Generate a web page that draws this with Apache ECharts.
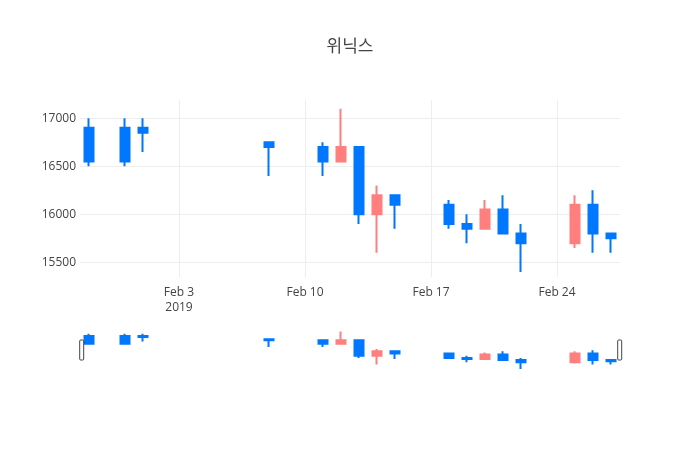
<!DOCTYPE html>
<html>
<head>
<meta charset="utf-8">
<title>위닉스</title>
<script src="https://cdn.jsdelivr.net/npm/echarts@6/dist/echarts.min.js"></script>
<style>
  html, body { margin: 0; padding: 0; background: #fff; }
  #chart { width: 700px; height: 450px; }
</style>
</head>
<body>
<div id="chart"></div>
<script>
// trading days shown in the chart
var dates = ['2019-01-29', '2019-01-31', '2019-02-01', '2019-02-08', '2019-02-11',
  '2019-02-12', '2019-02-13', '2019-02-14', '2019-02-15', '2019-02-18',
  '2019-02-19', '2019-02-20', '2019-02-21', '2019-02-22', '2019-02-25',
  '2019-02-26', '2019-02-27'];
var openPrices  = [16900, 16900, 16900, 16750, 16700, 16550, 16700, 16000, 16200, 16100,
  15900, 15850, 16050, 15800, 15700, 16100, 15800];
var closePrices = [16550, 16550, 16850, 16700, 16550, 16700, 16000, 16200, 16100, 15900,
  15850, 16050, 15800, 15700, 16100, 15800, 15750];
var lowPrices   = [16500, 16500, 16650, 16400, 16400, 16550, 15900, 15600, 15850, 15850,
  15700, 15850, 15800, 15400, 15650, 15600, 15600];
var highPrices  = [17000, 17000, 17000, 16750, 16750, 17100, 16700, 16300, 16200, 16150,
  16000, 16150, 16200, 15900, 16200, 16250, 15800];

// axis ticks
var xTickDates = ['2019-02-03', '2019-02-10', '2019-02-17', '2019-02-24'];
var yTickValues = [15500, 16000, 16500, 17000];

var monthNames = ['Jan', 'Feb', 'Mar', 'Apr', 'May', 'Jun', 'Jul', 'Aug', 'Sep', 'Oct', 'Nov', 'Dec'];
var UP = '#FF7F7F';
var DOWN = '#0077FF';
var FONT = '"Open Sans", "Noto Sans CJK KR", sans-serif';

function toTime(s) {
  var p = s.split('-');
  return Date.UTC(+p[0], +p[1] - 1, +p[2]);
}
var DAY = 24 * 3600 * 1000;

var rows = dates.map(function (d, i) {
  return [toTime(d), openPrices[i], closePrices[i], lowPrices[i], highPrices[i]];
});
var xTicks = xTickDates.map(toTime);
var xMin = toTime(dates[0]) - DAY / 2;
var xMax = toTime(dates[dates.length - 1]) + DAY / 2;

var candleStyle = {
  color: UP, color0: DOWN,
  borderColor: UP, borderColor0: DOWN,
  borderWidth: 2
};

var chart = echarts.init(document.getElementById('chart'));
var option = {
  animation: false,
  backgroundColor: '#fff',
  title: {
    text: '위닉스',
    left: 'center',
    top: 34,
    textStyle: { fontFamily: FONT, fontSize: 17, fontWeight: 'normal', color: '#444' }
  },
  grid: [
    { left: 80, right: 80, top: 100, height: 177 },
    { left: 80, right: 80, top: 330, height: 40 }
  ],
  xAxis: [{
    type: 'value',
    gridIndex: 0,
    min: xMin, max: xMax,
    axisLine: { show: false },
    axisTick: { show: false, customValues: xTicks },
    splitLine: { show: true, lineStyle: { color: '#eee', width: 1 } },
    axisLabel: {
      customValues: xTicks,
      margin: 8,
      color: '#444',
      fontFamily: FONT,
      fontSize: 12,
      lineHeight: 15,
      formatter: function (v) {
        var d = new Date(v);
        var s = monthNames[d.getUTCMonth()] + ' ' + d.getUTCDate();
        if (v === xTicks[0]) s += '\n' + d.getUTCFullYear();
        return s;
      }
    }
  }, {
    type: 'value',
    gridIndex: 1,
    min: xMin, max: xMax,
    show: false
  }],
  yAxis: [{
    type: 'value',
    gridIndex: 0,
    min: 15348, max: 17190,
    axisLine: { show: false },
    axisTick: { show: false, customValues: yTickValues },
    splitLine: { show: true, lineStyle: { color: '#eee', width: 1 } },
    axisLabel: {
      customValues: yTickValues,
      margin: 4,
      color: '#444',
      fontFamily: FONT,
      fontSize: 12,
      formatter: function (v) { return String(v); }
    }
  }, {
    type: 'value',
    gridIndex: 1,
    min: 15350, max: 17170,
    show: false
  }],
  dataZoom: [{
    type: 'slider',
    xAxisIndex: 1,
    filterMode: 'none',
    start: 0, end: 100,
    left: 80, right: 80, top: 330, height: 40,
    backgroundColor: 'rgba(0,0,0,0)',
    borderColor: 'rgba(0,0,0,0)',
    fillerColor: 'rgba(0,0,0,0)',
    showDataShadow: false,
    showDetail: false,
    brushSelect: false,
    moveHandleSize: 0,
    moveHandleStyle: { opacity: 0 },
    handleIcon: 'path://M1,0 H3 A1,1 0 0 1 4,1 V19 A1,1 0 0 1 3,20 H1 A1,1 0 0 1 0,19 V1 A1,1 0 0 1 1,0 Z',
    handleSize: 20,
    handleStyle: { color: '#fff', borderColor: '#444', borderWidth: 1 },
    emphasis: {
      handleStyle: { color: '#fff', borderColor: '#444', borderWidth: 1 },
      moveHandleStyle: { opacity: 0 }
    }
  }],
  series: [{
    type: 'candlestick',
    xAxisIndex: 0, yAxisIndex: 0,
    data: rows,
    encode: { x: 0, y: [1, 2, 3, 4] },
    barWidth: 9,
    itemStyle: candleStyle
  }, {
    type: 'candlestick',
    xAxisIndex: 1, yAxisIndex: 1,
    data: rows,
    encode: { x: 0, y: [1, 2, 3, 4] },
    barWidth: 9,
    itemStyle: candleStyle,
    silent: true
  }]
};
chart.setOption(option);
</script>
</body>
</html>
